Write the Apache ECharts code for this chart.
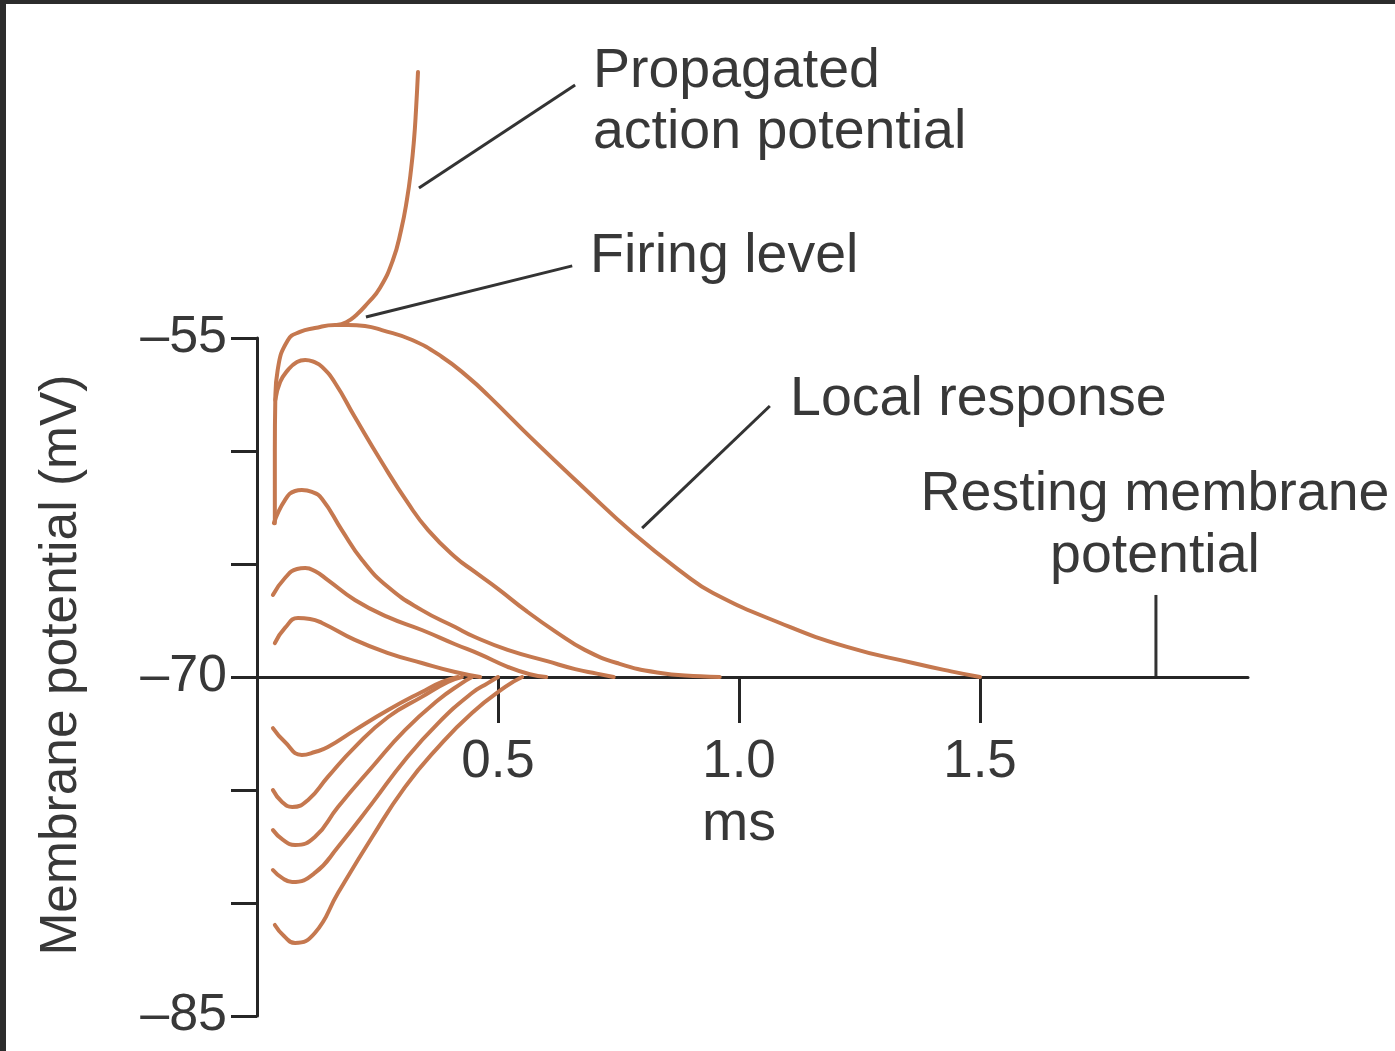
<!DOCTYPE html>
<html><head><meta charset="utf-8">
<script src="https://cdn.jsdelivr.net/npm/echarts@6/dist/echarts.min.js"></script>
<style>
html,body{margin:0;padding:0;background:#fff;overflow:hidden;}
#chart{position:absolute;left:0;top:0;width:1395px;height:1051px;}
.bt{position:absolute;left:0;top:0;width:1395px;height:4px;background:#2c2c2c;}
.bl{position:absolute;left:0;top:0;width:6px;height:1051px;background:#2c2c2c;}
</style></head><body>
<div id="chart"></div><div class="bt"></div><div class="bl"></div>
<script>
// ---- data (time in ms, potential in mV) ----
const xTickValues = [0.5, 1.0, 1.5];
const yTickLabels = [-85, -70, -55];
const restingPotential = -70;

const localResponseTop = [[0.037,-63.2],[0.037,-60.0],[0.038,-57.7],[0.043,-56.4],[0.064,-55.1],[0.089,-54.73],[0.12,-54.56],[0.162,-54.42],[0.189,-54.42],[0.224,-54.47],[0.259,-54.65],[0.322,-55.09],[0.384,-55.84],[0.438,-56.73],[0.48,-57.55],[0.573,-59.51],[0.676,-61.59],[0.78,-63.63],[0.884,-65.40],[0.946,-66.28],[1.085,-67.61],[1.224,-68.67],[1.361,-69.38],[1.44,-69.75],[1.5,-70]];
const depol2 = [[0.038,-57.74],[0.048,-56.95],[0.064,-56.42],[0.083,-56.06],[0.100,-55.97],[0.118,-56.06],[0.135,-56.28],[0.162,-56.99],[0.203,-58.50],[0.259,-60.50],[0.313,-62.30],[0.355,-63.50],[0.411,-64.69],[0.452,-65.35],[0.5,-66.1],[0.56,-67.1],[0.62,-68.0],[0.68,-68.8],[0.75,-69.4],[0.83,-69.8],[0.92,-69.97],[0.96,-70]];
const depol3 = [[0.035,-63.19],[0.058,-62.17],[0.079,-61.77],[0.093,-61.73],[0.114,-61.81],[0.135,-62.12],[0.176,-63.50],[0.218,-64.82],[0.272,-66.02],[0.342,-67.04],[0.411,-67.79],[0.452,-68.23],[0.52,-68.8],[0.602,-69.3],[0.66,-69.65],[0.705,-69.85],[0.74,-70]];
const depol4 = [[0.033,-66.37],[0.058,-65.62],[0.083,-65.22],[0.100,-65.18],[0.120,-65.31],[0.147,-65.71],[0.203,-66.59],[0.272,-67.35],[0.342,-67.92],[0.411,-68.55],[0.463,-69.0],[0.52,-69.55],[0.566,-69.88],[0.6,-70]];
const depol5 = [[0.037,-68.50],[0.058,-67.83],[0.085,-67.39],[0.110,-67.43],[0.135,-67.61],[0.203,-68.36],[0.272,-68.94],[0.342,-69.38],[0.411,-69.78],[0.463,-70]];
const hyper1 = [[0.033,-72.26],[0.058,-72.88],[0.093,-73.45],[0.120,-73.32],[0.147,-73.10],[0.203,-72.35],[0.272,-71.46],[0.342,-70.66],[0.384,-70.22],[0.417,-70]];
const hyper2 = [[0.033,-75.00],[0.052,-75.53],[0.073,-75.75],[0.106,-75.44],[0.147,-74.42],[0.203,-73.10],[0.272,-71.77],[0.342,-70.88],[0.396,-70.22],[0.425,-70]];
const hyper3 = [[0.033,-76.77],[0.054,-77.21],[0.079,-77.43],[0.120,-77.08],[0.168,-75.75],[0.239,-73.98],[0.307,-72.35],[0.376,-71.02],[0.425,-70.27],[0.446,-70]];
const hyper4 = [[0.033,-78.54],[0.052,-78.89],[0.073,-79.07],[0.120,-78.67],[0.168,-77.52],[0.239,-75.58],[0.307,-73.67],[0.376,-72.04],[0.446,-70.71],[0.479,-70.27],[0.5,-70]];
const hyper5 = [[0.037,-80.97],[0.056,-81.46],[0.079,-81.77],[0.120,-81.33],[0.168,-79.56],[0.239,-77.08],[0.307,-74.87],[0.376,-73.10],[0.446,-71.59],[0.515,-70.44],[0.55,-70]];
const actionPotential = [[0.165,-54.42],[0.185,-54.3],[0.205,-54.0],[0.23,-53.45],[0.255,-52.79],[0.282,-51.55],[0.299,-50.22],[0.311,-48.89],[0.3195,-47.57],[0.3257,-46.24],[0.3299,-44.91],[0.334,-43.23]];

// annotations anchored in data space
const textLabels = [
  {text:'Propagated', at:[0.697,-43.23], align:'left'},
  {text:'action potential', at:[0.697,-45.93], align:'left'},
  {text:'Firing level', at:[0.691,-51.42], align:'left'},
  {text:'Local response', at:[1.106,-57.74], align:'left'},
  {text:'Resting membrane', at:[1.863,-61.95], align:'center'},
  {text:'potential', at:[1.863,-64.69], align:'center'},
  {text:'ms', at:[1.0,-76.55], align:'center'}
];
const leaderLines = [
  [[0.660,-43.81],[0.336,-48.36]],
  [[0.654,-51.81],[0.226,-54.07]],
  [[1.064,-58.01],[0.799,-63.41]],
  [[1.865,-66.37],[1.865,-70]]
];
const yTitle = {text:'Membrane potential (mV)', at:[-0.405,-69.47]};

// ---- chart ----
const FONT = '"Liberation Sans", Arial, Helvetica, sans-serif';
const AX = '#262626', TXT = '#383838', CURVE = '#c5784f';
const GRID = {left:257, top:338, width:991, height:678};
const X_MAX = 2.056, Y_MIN = -85, Y_MAX = -55;

const curves = [localResponseTop, depol2, depol3, depol4, depol5, hyper1, hyper2, hyper3, hyper4, hyper5, actionPotential];

const chart = echarts.init(document.getElementById('chart'), null, {renderer:'canvas'});
chart.setOption({
  animation:false,
  backgroundColor:'#ffffff',
  grid:GRID,
  xAxis:{
    type:'value', min:0, max:X_MAX, interval:0.5, position:'bottom',
    offset: -GRID.height * (restingPotential - Y_MIN) / (Y_MAX - Y_MIN),
    axisLine:{show:true, onZero:false, lineStyle:{color:AX, width:3}},
    axisTick:{show:true, length:46, customValues:xTickValues, lineStyle:{color:AX, width:3}},
    axisLabel:{customValues:xTickValues, formatter:v=>v.toFixed(1), fontSize:53, fontFamily:FONT, color:TXT, margin:59},
    splitLine:{show:false}
  },
  yAxis:{
    type:'value', min:Y_MIN, max:Y_MAX, interval:5,
    axisLine:{show:true, onZero:false, lineStyle:{color:AX, width:3}},
    axisTick:{show:true, length:26, lineStyle:{color:AX, width:3}},
    axisLabel:{customValues:yTickLabels, formatter:v=>'\u2013'+Math.abs(v), fontSize:52, fontFamily:FONT, color:TXT, margin:30},
    splitLine:{show:false}
  },
  series: curves.map(d=>({
    type:'line', data:d, smooth:0.5, symbol:'none', showSymbol:false, clip:false, silent:true,
    color:CURVE, lineStyle:{color:CURVE, width:4, cap:'round', join:'round'}
  }))
});

const P = (pt)=>chart.convertToPixel({gridIndex:0}, pt);
const g = [];
leaderLines.forEach(l=>{
  const a=P(l[0]), b=P(l[1]);
  g.push({type:'line', silent:true, shape:{x1:a[0],y1:a[1],x2:b[0],y2:b[1]}, style:{stroke:'#333', lineWidth:3}});
});
textLabels.forEach(t=>{
  const p=P(t.at);
  g.push({type:'text', silent:true, x:p[0], y:p[1], style:{text:t.text, fontSize:55.5, fontFamily:FONT, fill:TXT, align:t.align, verticalAlign:'middle'}});
});
const yp = P(yTitle.at);
g.push({type:'text', silent:true, x:yp[0], y:yp[1], rotation:Math.PI/2, style:{text:yTitle.text, fontSize:51.5, fontFamily:FONT, fill:TXT, align:'center', verticalAlign:'middle'}});
chart.setOption({graphic:g});
</script>
</body></html>
